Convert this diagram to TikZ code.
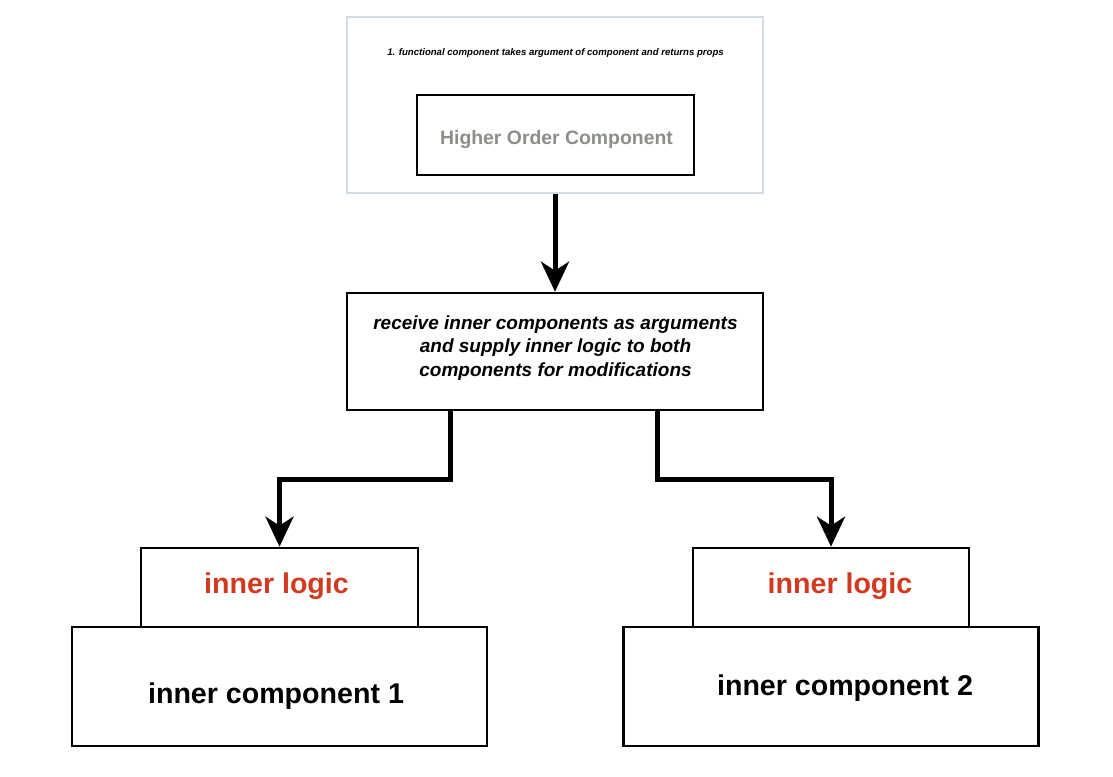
\documentclass[tikz,border=0pt]{standalone}
\usepackage{fontspec}
\setmainfont{Liberation Sans}
\usetikzlibrary{arrows.meta}
\definecolor{outerc}{HTML}{D0DBE4}
\definecolor{hocgray}{HTML}{8A8F88}
\definecolor{logicred}{HTML}{D23A1F}
\begin{document}
\begin{tikzpicture}[x=1pt,y=-1pt,
  box/.style={draw=black, line width=2.6pt, rectangle, inner sep=0pt, fill=white},
  conn/.style={draw=black, line width=5pt, -{Stealth[length=30pt,width=28pt,inset=9pt]}},
  big/.style={font=\fontsize{28.6}{30}\selectfont\bfseries, inner sep=0pt, anchor=base},
  redtxt/.style={big, text=logicred}
]
\path[use as bounding box] (0,0) rectangle (1113,776);

% top frame
\node[draw=outerc, line width=2.4pt, rectangle, inner sep=0pt, minimum width=416pt, minimum height=176pt] (outer) at (555,105) {};
\node[font=\fontsize{9.6}{11}\selectfont\bfseries\itshape, inner sep=0pt, anchor=base] (note) at (555.5,56) {1. functional component takes argument of component and returns props};
\node[box, minimum width=277pt, minimum height=80pt] (hoc) at (555.5,135) {};
\node[font=\fontsize{19.4}{22}\selectfont\bfseries, text=hocgray, inner sep=0pt, anchor=base] (hoct) at (556.5,144) {Higher Order Component};

% middle box
\node[box, minimum width=416pt, minimum height=117pt] (mid) at (555,351.5) {};
\node[font=\fontsize{19}{23.5}\selectfont\bfseries\itshape, align=center, inner sep=0pt] (midt) at (555.5,348) {receive inner components as arguments\\and supply inner logic to both\\components for modifications};

% left stack
\node[box, minimum width=415pt, minimum height=119pt] (compL) at (279.5,686.5) {};
\node[box, minimum width=277pt, minimum height=79pt] (logicL) at (279.5,587.5) {};
\node[redtxt] (logicLt) at (276.5,593) {inner logic};
\node[big] (compLt) at (276,703) {inner component 1};

% right stack
\node[box, minimum width=415pt, minimum height=119pt] (compR) at (831,686.5) {};
\node[box, minimum width=276pt, minimum height=79pt] (logicR) at (831,587.5) {};
\node[redtxt] (logicRt) at (840,593) {inner logic};
\node[big] (compRt) at (845,695) {inner component 2};

% connectors
\coordinate (tL) at (450,479);
\coordinate (tR) at (657,479);
\draw[conn] (outer.south) -- (mid.north);
\draw[conn] (mid.south -| tL) -- (tL) -| (logicL.north);
\draw[conn] (mid.south -| tR) -- (tR) -| (logicR.north);
\end{tikzpicture}
\end{document}
